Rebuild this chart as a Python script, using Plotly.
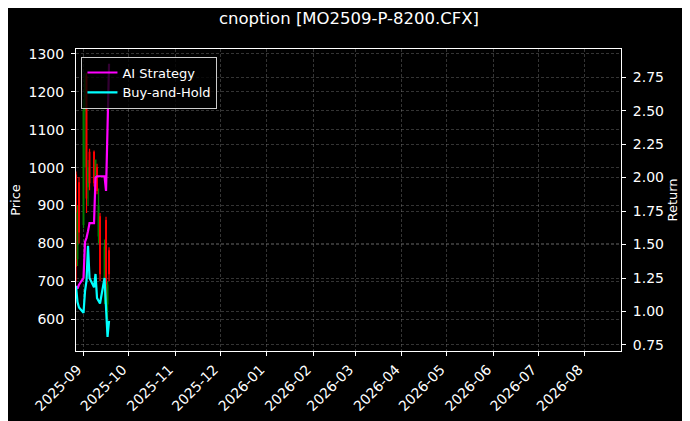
import plotly.graph_objects as go

TITLE = "cnoption [MO2509-P-8200.CFX]"

dates = [
    "2025-08-27", "2025-08-28", "2025-08-29", "2025-09-01", "2025-09-02",
    "2025-09-03", "2025-09-04", "2025-09-05", "2025-09-08", "2025-09-09",
    "2025-09-10", "2025-09-11", "2025-09-12", "2025-09-15", "2025-09-16",
    "2025-09-17", "2025-09-18",
]
open_px = [980, 760, 960, 850, 1150, 1240, 950, 1040, 1040, 950, 1000, 820, 870, 700, 860, 640, 780]
high_px = [990, 900, 975, 1180, 1250, 1250, 1020, 1050, 1045, 1020, 1010, 945, 880, 810, 870, 700, 790]
low_px = [700, 740, 800, 840, 1000, 880, 900, 940, 950, 940, 930, 800, 700, 640, 620, 600, 700]
close_px = [740, 880, 830, 1150, 1230, 920, 1000, 960, 960, 1020, 940, 900, 720, 790, 650, 690, 720]

ai_return = [1.19, 1.17, 1.20, 1.25, 1.52, 1.55, 1.60, 1.66, 1.66, 2.00, 2.01, 2.01, 2.01, 2.01, 1.90, 2.40, 2.85]
bh_return = [1.19, 1.07, 1.03, 0.99, 1.15, 1.23, 1.49, 1.25, 1.18, 1.28, 1.10, 1.08, 1.06, 1.25, 1.05, 0.81, 0.93]

price_ticks = [600, 700, 800, 900, 1000, 1100, 1200, 1300]
return_ticks = [0.75, 1.00, 1.25, 1.50, 1.75, 2.00, 2.25, 2.50, 2.75]

FONT = "DejaVu Sans"
GRID = "rgba(150,150,150,0.35)"

# the page body has an 8px margin, so the figure is drawn a bit smaller
W, H = 682, 413

fig = go.Figure()

fig.add_trace(
    go.Candlestick(
        x=dates,
        open=open_px,
        high=high_px,
        low=low_px,
        close=close_px,
        increasing=dict(line=dict(color="green", width=1.2), fillcolor="green"),
        decreasing=dict(line=dict(color="red", width=1.2), fillcolor="red"),
        showlegend=False,
        whiskerwidth=0,
    )
)

fig.add_trace(
    go.Scatter(x=dates, y=ai_return, name="AI Strategy", mode="lines",
               line=dict(color="#ff00ff", width=2.2), yaxis="y2")
)
fig.add_trace(
    go.Scatter(x=dates, y=bh_return, name="Buy-and-Hold", mode="lines",
               line=dict(color="#00ffff", width=2.2), yaxis="y2")
)

axis_common = dict(
    showline=True,
    linecolor="white",
    linewidth=1,
    ticks="outside",
    ticklen=4,
    tickcolor="white",
    showgrid=True,
    gridcolor=GRID,
    gridwidth=0.5,
    griddash="3px,2px",
    zeroline=False,
    automargin=False,
    tickfont=dict(family=FONT, size=14, color="white"),
)

fig.update_layout(
    width=W,
    height=H,
    paper_bgcolor="black",
    plot_bgcolor="black",
    margin=dict(l=68, r=69, t=41, b=70),
    title=dict(text=TITLE, x=0.5, xanchor="center", y=1 - 10 / H, yref="container",
               yanchor="middle", automargin=False,
               font=dict(family=FONT, size=16.5, color="white")),
    font=dict(family=FONT, color="white"),
    xaxis=dict(
        **axis_common,
        mirror=True,
        type="date",
        range=["2025-08-27", "2026-08-25"],
        dtick="M1",
        tick0="2025-09-01",
        tickformat="%Y-%m",
        tickangle=-45,
        ticklabelstandoff=0,
        ticklabelshift=-6,
        rangeslider=dict(visible=False),
    ),
    yaxis=dict(
        **axis_common,
        range=[516, 1313],
        tickvals=price_ticks,
        ticklabelstandoff=4,
        title=dict(text="Price", font=dict(family=FONT, size=13, color="white"), standoff=5),
    ),
    yaxis2=dict(
        **axis_common,
        overlaying="y",
        side="right",
        range=[0.705, 2.96],
        tickvals=return_ticks,
        tickformat=".2f",
        ticklabelstandoff=4,
        title=dict(text="Return", font=dict(family=FONT, size=13, color="white"), standoff=4),
    ),
    legend=dict(
        x=0.01, y=0.975, xanchor="left", yanchor="top",
        bgcolor="rgba(0,0,0,0.8)",
        bordercolor="#cccccc",
        borderwidth=1,
        font=dict(family=FONT, size=13, color="white"),
        tracegroupgap=0,
    ),
)

fig.write_html("out.html")
